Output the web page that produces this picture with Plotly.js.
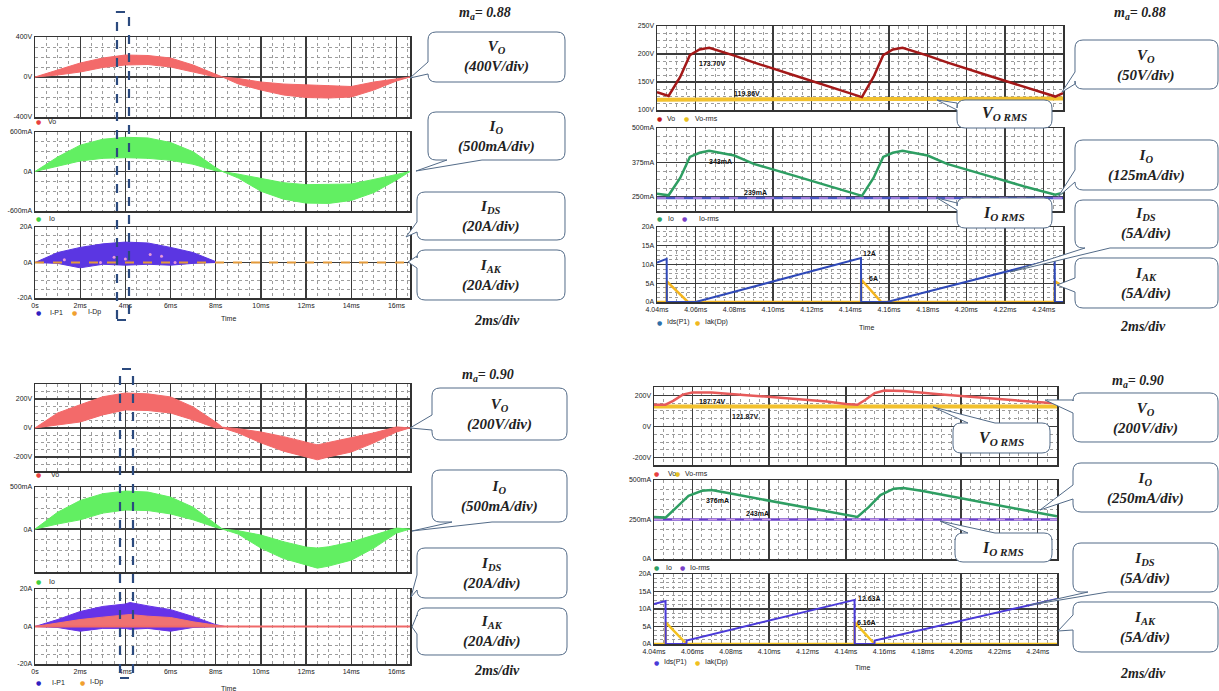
<!DOCTYPE html>
<html><head><meta charset="utf-8">
<script src="https://cdn.plot.ly/plotly-3.0.1.min.js"></script>
<style>html,body{margin:0;padding:0;background:#fff}#chart{width:1219px;height:691px}</style>
</head><body><div id="chart"></div>
<script>
// ================= DATA =================
// Panel A: m_a = 0.88, 0 - 16.6 ms
const tA = [0,1,2,3,4,5,6,7,8,8.3,9,10,11,12,13,14,15,16,16.6];
const voA_hi = [0,70,140,190,220,215,190,120,25,0,-15,-50,-70,-80,-85,-95,-50,-15,0];
const voA_lo = [0,20,50,95,120,125,100,50,0,0,-70,-130,-180,-205,-210,-200,-130,-40,0];
const ioA_hi = [0,220,400,490,520,510,440,300,60,0,-40,-110,-170,-200,-200,-190,-120,-40,0];
const ioA_lo = [0,80,160,200,210,200,170,110,10,0,-100,-300,-420,-480,-485,-440,-320,-130,0];
const tA_sw = [0,1,2,3,4,5,6,7,8];
const idsA_hi = [0,5.6,8.5,10.5,11.5,11,8.5,5.6,0.5];
const idsA_lo = [0,-0.5,-3,-1,-1.5,-1,-1.5,-0.5,0];
const idpA_t = [0,16.6];
const idpA_v = [0,0];
const idpA_dot_t = [1.3,2.9,3.5,4.0,5.1,5.6,6.2];
const idpA_dot_v = [1.5,0,3,2,4.5,3.5,0];

// Panel B: m_a = 0.90, 0 - 16.6 ms
const tB = [0,1,2,3,4,5,6,7,8,8.3,9,10,11,12,12.5,13,14,15,16,16.6];
const voB_hi = [0,103,160,215,241,235,214,145,41,5,-5,-28,-60,-97,-117,-100,-69,-34,7,0];
const voB_lo = [0,21,41,90,124,120,103,55,0,0,-35,-103,-160,-200,-220,-200,-166,-103,-28,0];
const ioB_hi = [0,200,340,420,452,440,380,260,60,0,-20,-71,-150,-214,-226,-210,-155,-71,12,0];
const ioB_lo = [0,60,110,190,226,220,180,110,20,0,-60,-226,-350,-429,-464,-440,-369,-226,-48,0];
const tB_sw = [0,1,2,3,4,4.2,5,6,7,8,8.4];
const idsB_hi = [0,3.7,8,10.7,12,12.8,11,9,5.3,1,0];
const idsB_lo = [0,-0.5,-2.5,-1,-1,-1.5,-1,-2.5,-0.5,0,0];
const iakB_hi = [0,1.8,3.7,5,6.4,6.4,5.5,4.8,2.5,0.5,0];
const idpB_t = [0,16.6];
const idpB_v = [0,0];

// Panel C: m_a = 0.88 zoom, 4.04 - 4.25 ms
const tC = [4.04,4.046,4.052,4.057,4.062,4.067,4.08,4.09,4.11,4.13,4.146,4.152,4.157,4.162,4.167,4.18,4.19,4.21,4.23,4.246,4.25];
const voC = [132,125,159,198,208,211,197,185,163,141,123,159,198,208,211,197,185,163,141,124,130];
const ioC = [262,256,319,395,410,417,400,370,329,288,254,319,395,410,417,400,370,329,288,258,265];
const rmsC_t = [4.04,4.25];
const vormsC = [118.5,120.5];
const iormsC = [246,246];
const idsC_t = [4.04,4.045,4.0451,4.06,4.1455,4.1456,4.159,4.2457,4.2458,4.25];
const idsC = [10.5,11.5,0,0,11.7,0,0,11.4,0,0];
const iakC_t = [4.04,4.045,4.0451,4.056,4.1455,4.1456,4.156,4.2457,4.2458,4.25];
const iakC = [0,0,5.5,0,0,6,0,0,5.5,4.2];

// Panel D: m_a = 0.90 zoom, 4.04 - 4.25 ms
const tD_vo = [4.04,4.046,4.05,4.055,4.06,4.07,4.09,4.11,4.13,4.14,4.146,4.15,4.155,4.16,4.17,4.19,4.21,4.23,4.245,4.25];
const voD = [140,140,165,205,219,218,200,180,160,145,140,170,215,231,228,205,185,165,152,150];
const tD_io = [4.04,4.046,4.052,4.058,4.065,4.07,4.08,4.10,4.12,4.14,4.146,4.152,4.158,4.165,4.17,4.18,4.20,4.22,4.24,4.25];
const ioD = [266,262,330,400,432,437,414,370,325,280,266,330,405,445,449,430,385,340,292,270];
const rmsD_t = [4.04,4.25];
const vormsD = [128,128];
const iormsD = [250,250];
const idsD_t = [4.04,4.046,4.0461,4.0569,4.057,4.1445,4.1446,4.1549,4.155,4.25];
const idsD = [11.4,12.3,0,0,1,12.6,0,0,1,12.9];
const iakD_t = [4.04,4.046,4.0461,4.057,4.1445,4.1446,4.155,4.25];
const iakD = [0,0,6.2,0,0,6.16,0,0];

// Tick labels
const xTickA = [0,2,4,6,8,10,12,14,16];
const xTickA_txt = ["0s","2ms","4ms","6ms","8ms","10ms","12ms","14ms","16ms"];
const xTickC = [4.04,4.06,4.08,4.10,4.12,4.14,4.16,4.18,4.20,4.22,4.24];
const xTickC_txt = ["4.04ms","4.06ms","4.08ms","4.10ms","4.12ms","4.14ms","4.16ms","4.18ms","4.20ms","4.22ms","4.24ms"];
const yVoA = [-400,0,400], yVoA_txt = ["-400V","0V","400V"];
const yIoA = [-600,0,600], yIoA_txt = ["-600mA","0A","600mA"];
const yIsw = [-20,0,20], yIsw_txt = ["-20A","0A","20A"];
const yVoB = [-200,0,200], yVoB_txt = ["-200V","0V","200V"];
const yIoB = [0,500], yIoB_txt = ["0A","500mA"];
const yVoC = [100,150,200,250], yVoC_txt = ["100V","150V","200V","250V"];
const yIoC = [250,375,500], yIoC_txt = ["250mA","375mA","500mA"];
const yIswR = [0,5,10,15,20], yIswR_txt = ["0A","5A","10A","15A","20A"];
const yVoD = [-200,0,200], yVoD_txt = ["-200V","0V","200V"];
const yIoD = [0,250,500], yIoD_txt = ["0A","250mA","500mA"];

// ================= LAYOUT HELPERS =================
const W = 1219, H = 691;
const px = x => x / W;
const py = y => 1 - y / H;
const tickFont = {family:'Liberation Sans Narrow, Liberation Sans, Arial', size:7, color:'#222'};

function xax(n, l, r, range, vals, txt, show, mdt, m0){
  return {domain:[px(l),px(r)], range, anchor:'y'+(n===1?'':n), tickmode:'array', tickvals:vals, ticktext:txt,
    showticklabels:show, showgrid:true, gridcolor:'#3c3c3c', gridwidth:1.3, zeroline:false,
    showline:true, mirror:true, linecolor:'#333', linewidth:1.5, ticks:'', tickfont:tickFont, fixedrange:true,
    minor:{tickmode:'linear', dtick:mdt, tick0:m0, showgrid:true, gridcolor:'#9c9c9c', griddash:'dot', gridwidth:1, ticks:''}};
}
function yax(n, t, b, range, vals, txt, mdt, m0){
  return {domain:[py(b),py(t)], range, anchor:'x'+(n===1?'':n), tickmode:'array', tickvals:vals, ticktext:txt,
    showticklabels:true, showgrid:true, gridcolor:'#3c3c3c', gridwidth:1.3, zeroline:false,
    showline:true, mirror:true, linecolor:'#333', linewidth:1.5, ticks:'', tickfont:tickFont, fixedrange:true,
    minor:{tickmode:'linear', dtick:mdt, tick0:m0, showgrid:true, gridcolor:'#9c9c9c', griddash:'dot', gridwidth:1, ticks:''}};
}
const layout = {width:W, height:H, margin:{l:0,r:0,t:0,b:0}, autosize:false, showlegend:false,
  paper_bgcolor:'#fff', plot_bgcolor:'#fff', shapes:[], annotations:[]};

// subplot geometry (pixels)
const SP = [
  [1, 35,410, 37,117, [0,16.6], xTickA,xTickA_txt,false,0.5,0, [-400,400], yVoA,yVoA_txt,100,0],
  [2, 35,410,132,211, [0,16.6], xTickA,xTickA_txt,false,0.5,0, [-600,600], yIoA,yIoA_txt,150,0],
  [3, 35,410,227,298, [0,16.6], xTickA,xTickA_txt,true, 0.5,0, [-20,20], yIsw,yIsw_txt,5,0],
  [4, 657,1063, 26,110, [4.04,4.25], xTickC,xTickC_txt,false,0.005,4.04, [100,250], yVoC,yVoC_txt,12.5,100],
  [5, 657,1063,128,211, [4.04,4.25], xTickC,xTickC_txt,false,0.005,4.04, [199,500], yIoC,yIoC_txt,31.25,250],
  [6, 657,1063,227,302, [4.04,4.25], xTickC,xTickC_txt,true, 0.005,4.04, [0,20], yIswR,yIswR_txt,1.25,0],
  [7, 35,410,384,471, [0,16.6], xTickA,xTickA_txt,false,0.5,0, [-297,303], yVoB,yVoB_txt,50,0],
  [8, 35,410,487,572, [0,16.6], xTickA,xTickA_txt,false,0.5,0, [-510,500], yIoB,yIoB_txt,125,0],
  [9, 35,410,589,664, [0,16.6], xTickA,xTickA_txt,true, 0.5,0, [-20,20], yIsw,yIsw_txt,5,0],
  [10, 654,1057,387,465, [4.04,4.25], xTickC,xTickC_txt,false,0.005,4.04, [-248,254], yVoD,yVoD_txt,50,0],
  [11, 654,1057,480,559, [4.04,4.25], xTickC,xTickC_txt,false,0.005,4.04, [0,500], yIoD,yIoD_txt,62.5,0],
  [12, 654,1057,574,644, [4.04,4.25], xTickC,xTickC_txt,true, 0.005,4.04, [0,20], yIswR,yIswR_txt,1.25,0]
];
SP.forEach(s => {
  const [n,l,r,t,b,xr,xv,xt,sx,xm,x0,yr,yv,yt,ym,y0] = s;
  const k = n===1 ? '' : n;
  layout['xaxis'+k] = xax(n,l,r,xr,xv,xt,sx,xm,x0);
  layout['yaxis'+k] = yax(n,t,b,yr,yv,yt,ym,y0);
});

// ================= TRACES =================
const traces = [];
function ax(n){ return {xaxis:'x'+(n===1?'':n), yaxis:'y'+(n===1?'':n)}; }
function band(n, x, lo, hi, col){
  traces.push(Object.assign({x, y:lo, mode:'lines', line:{color:col, width:1}, hoverinfo:'skip'}, ax(n)));
  traces.push(Object.assign({x, y:hi, mode:'lines', line:{color:col, width:1}, fill:'tonexty', fillcolor:col, hoverinfo:'skip'}, ax(n)));
}
function line(n, x, y, col, w, dash){
  traces.push(Object.assign({x, y, mode:'lines', line:{color:col, width:w, dash:dash||'solid'}, hoverinfo:'skip'}, ax(n)));
}
// Panel A
band(1, tA, voA_lo, voA_hi, '#f36a6a');
band(2, tA, ioA_lo, ioA_hi, '#62ef62');
band(3, tA_sw, idsA_lo, idsA_hi, '#5b36e2');
line(3, idpA_t, idpA_v, '#e39a3a', 2, 'dash');
traces.push(Object.assign({x:idpA_dot_t, y:idpA_dot_v, mode:'markers', marker:{color:'#e79ad8', size:3}, hoverinfo:'skip'}, ax(3)));
// Panel C
line(4, rmsC_t, vormsC, '#f2c12e', 4);
line(4, tC, voC, '#a31818', 2.5);
line(5, rmsC_t, iormsC, '#4b55c4', 2.5);
line(5, rmsC_t, iormsC, '#b98ae6', 1.5, 'dash');
line(5, tC, ioC, '#2e9e62', 2.5);
line(6, iakC_t, iakC, '#f4b51f', 2.5);
line(6, idsC_t, idsC, '#2f49b8', 2);
// Panel B
band(7, tB, voB_lo, voB_hi, '#f36a6a');
band(8, tB, ioB_lo, ioB_hi, '#62ef62');
band(9, tB_sw, idsB_lo, idsB_hi, '#6633e8');
traces.push(Object.assign({x:tB_sw, y:iakB_hi, mode:'lines', line:{color:'#f07272', width:1}, fill:'tozeroy', fillcolor:'#f07272', hoverinfo:'skip'}, ax(9)));
line(9, idpB_t, idpB_v, '#ef6868', 2);
// Panel D
line(10, rmsD_t, vormsD, '#f2c12e', 4);
line(10, tD_vo, voD, '#e65a5a', 2.5);
line(11, rmsD_t, iormsD, '#6a3fc8', 2.5);
line(11, rmsD_t, iormsD, '#c79be8', 1.5, 'dash');
line(11, tD_io, ioD, '#2e9e62', 2.5);
line(12, iakD_t, iakD, '#f4c21f', 2.5);
line(12, idsD_t, idsD, '#4a3ad8', 2);

// ================= ANNOTATIONS & SHAPES =================
function ann(text, x, y, o){
  layout.annotations.push(Object.assign({text, x:px(x), y:py(y), xref:'paper', yref:'paper', showarrow:false,
    xanchor:'center', yanchor:'middle', font:{family:'Liberation Sans, Arial', size:7, color:'#222'}}, o||{}));
}
const serif = {family:'Liberation Serif, Times New Roman, serif', size:15, color:'#222'};
function boxText(text, x, y, size){ ann(text, x, y, {font:Object.assign({}, serif, {size:size||15})}); }

function callout(x0,y0,x1,y1,w){
  const r = 8, P = [];
  P.push(['M',x0+r,y0]);
  if (w.side==='top'){ P.push(['L',w.a,y0]); P.push(['L',w.tx,w.ty]); P.push(['L',w.b,y0]); }
  P.push(['L',x1-r,y0]); P.push(['Q',x1,y0,x1,y0+r]);
  P.push(['L',x1,y1-r]); P.push(['Q',x1,y1,x1-r,y1]);
  if (w.side==='bottom'){ P.push(['L',w.b,y1]); P.push(['L',w.tx,w.ty]); P.push(['L',w.a,y1]); }
  P.push(['L',x0+r,y1]); P.push(['Q',x0,y1,x0,y1-r]);
  if (w.side==='left'){ P.push(['L',x0,w.b]); P.push(['L',w.tx,w.ty]); P.push(['L',x0,w.a]); }
  P.push(['L',x0,y0+r]); P.push(['Q',x0,y0,x0+r,y0]);
  let s = '';
  P.forEach(c => {
    s += c[0] + ' ';
    for (let i=1;i<c.length;i+=2) s += px(c[i]).toFixed(5) + ',' + py(c[i+1]).toFixed(5) + ' ';
  });
  s += 'Z';
  layout.shapes.push({type:'path', xref:'paper', yref:'paper', path:s, fillcolor:'#ffffff',
    line:{color:'#536b88', width:1}, layer:'above'});
}
function dashBox(x0,y0,x1,y1){
  layout.shapes.push({type:'rect', xref:'paper', yref:'paper', x0:px(x0), x1:px(x1), y0:py(y1), y1:py(y0),
    line:{color:'#2b4a7e', width:2.2, dash:'dash'}, fillcolor:'rgba(0,0,0,0)', layer:'above'});
}
dashBox(117,12,129,320);
dashBox(120,369,133,678);

// ---- callouts, Panel A
callout(428,32,565,82,{side:'left',a:62,b:74,tx:410,ty:78});
callout(428,112,565,160,{side:'bottom',a:447,b:482,tx:416,ty:171});
callout(417,192,565,240,{side:'left',a:222,b:232,tx:406,ty:237});
callout(417,250,565,300,{side:'left',a:256,b:268,tx:408,ty:262});
// Panel C
callout(1075,40,1218,89,{side:'left',a:72,b:84,tx:1062,ty:92});
callout(1075,140,1218,190,{side:'left',a:170,b:182,tx:1058,ty:197});
callout(1075,200,1218,248,{side:'bottom',a:1085,b:1110,tx:1010,ty:272});
callout(1075,258,1218,308,{side:'left',a:278,b:292,tx:1057,ty:285});
callout(957,100,1052,128,{side:'left',a:103,b:110,tx:937,ty:100});
callout(957,198,1052,228,{side:'left',a:203,b:210,tx:937,ty:198});
// Panel B
callout(432,388,567,440,{side:'left',a:415,b:430,tx:410,ty:428});
callout(432,470,567,522,{side:'bottom',a:452,b:492,tx:412,ty:531});
callout(417,548,567,598,{side:'left',a:575,b:590,tx:411,ty:597});
callout(417,608,567,655,{side:'left',a:615,b:634,tx:412,ty:627});
// Panel D
callout(1073,393,1218,442,{side:'left',a:400,b:413,tx:1045,ty:400});
callout(1073,463,1218,512,{side:'left',a:485,b:499,tx:1040,ty:510});
callout(1073,543,1218,592,{side:'bottom',a:1088,b:1108,tx:1030,ty:605});
callout(1073,602,1218,652,{side:'left',a:615,b:630,tx:1058,ty:631});
callout(953,423,1050,453,{side:'top',a:968,b:995,tx:933,ty:407});
callout(955,533,1052,562,{side:'top',a:968,b:995,tx:940,ty:521});

// box texts
const VO = '<b><i>V<sub>O</sub></i></b>', IO = '<b><i>I<sub>O</sub></i></b>';
const IDS = '<b><i>I<sub>DS</sub></i></b>', IAK = '<b><i>I<sub>AK</sub></i></b>';
const d = s => '<b><i>(' + s + ')</i></b>';
boxText(VO+'<br>'+d('400V/div'), 496, 57);
boxText(IO+'<br>'+d('500mA/div'), 496, 136);
boxText(IDS+'<br>'+d('20A/div'), 491, 216);
boxText(IAK+'<br>'+d('20A/div'), 491, 275);
boxText(VO+'<br>'+d('50V/div'), 1146, 65);
boxText(IO+'<br>'+d('125mA/div'), 1146, 165);
boxText(IDS+'<br>'+d('5A/div'), 1146, 224);
boxText(IAK+'<br>'+d('5A/div'), 1146, 283);
boxText('<b><i>V<sub>O RMS</sub></i></b>', 1004, 114, 16);
boxText('<b><i>I<sub>O RMS</sub></i></b>', 1004, 213, 16);
boxText(VO+'<br>'+d('200V/div'), 499, 414);
boxText(IO+'<br>'+d('500mA/div'), 499, 496);
boxText(IDS+'<br>'+d('20A/div'), 492, 573);
boxText(IAK+'<br>'+d('20A/div'), 492, 631);
boxText(VO+'<br>'+d('200V/div'), 1145, 418);
boxText(IO+'<br>'+d('250mA/div'), 1145, 488);
boxText(IDS+'<br>'+d('5A/div'), 1145, 568);
boxText(IAK+'<br>'+d('5A/div'), 1145, 627);
boxText('<b><i>V<sub>O RMS</sub></i></b>', 1001, 438, 16);
boxText('<b><i>I<sub>O RMS</sub></i></b>', 1003, 548, 16);
// headers and time-base
boxText('<b><i>m<sub>a</sub>= 0.88</i></b>', 485, 14, 14);
boxText('<b><i>m<sub>a</sub>= 0.88</i></b>', 1140, 14, 14);
boxText('<b><i>m<sub>a</sub>= 0.90</i></b>', 488, 375, 14);
boxText('<b><i>m<sub>a</sub>= 0.90</i></b>', 1138, 382, 14);
boxText('<b><i>2ms/div</i></b>', 497, 320, 14);
boxText('<b><i>2ms/div</i></b>', 1143, 326, 14);
boxText('<b><i>2ms/div</i></b>', 497, 670, 14);
boxText('<b><i>2ms/div</i></b>', 1143, 673, 14);

// legends
function leg(col, mx, txt, tx, y){
  ann('●', mx, y, {font:{family:'DejaVu Sans', size:6, color:col}});
  ann(txt, tx, y, {xanchor:'left'});
}
leg('#e84040',38,'Vo',46,122);
leg('#40d040',38,'Io',47,218);
leg('#3020c0',38,'I-P1',48,312); leg('#f0a030',74,'I-Dp',86,312);
ann('Time', 228, 319);
leg('#c01818',659,'Vo',665,118); leg('#e8c020',686,'Vo-rms',693,118);
leg('#2e9e62',659,'Io',666,218); leg('#7a3fc8',684,'Io-rms',697,218);
leg('#2f6fa8',659,'Ids(P1)',665,322); leg('#f0b820',697,'Iak(Dp)',703,322);
ann('Time', 866, 327);
leg('#e84040',38,'Vo',49,474);
leg('#40d040',38,'Io',47,581);
leg('#3020c0',38,'I-P1',50,682); leg('#f0a030',82,'I-Dp',88,682);
ann('Time', 228, 688);
leg('#e84040',656,'Vo',666,473); leg('#e8c020',677,'Vo-rms',683,473);
leg('#2e9e62',656,'Io',664,567); leg('#7a3fc8',682,'Io-rms',688,567);
leg('#4a3ad8',656,'Ids(P1)',662,662); leg('#f0c020',697,'Iak(Dp)',703,662);
ann('Time', 862, 667);

// value labels
const bl = {font:{family:'Liberation Sans, Arial', size:7, color:'#111'}};
ann('<b>173.70V</b>', 712, 63, bl);
ann('<b>119.86V</b>', 747, 93, bl);
ann('<b>343mA</b>', 720, 162, bl);
ann('<b>239mA</b>', 755, 192, bl);
ann('<b>12A</b>', 870, 253, bl);
ann('<b>6A</b>', 873, 279, bl);
ann('<b>187.74V</b>', 712, 402, bl);
ann('<b>121.87V</b>', 745, 417, bl);
ann('<b>376mA</b>', 717, 500, bl);
ann('<b>243mA</b>', 757, 513, bl);
ann('<b>12.63A</b>', 870, 598, bl);
ann('<b>6.16A</b>', 866, 622, bl);

Plotly.newPlot('chart', traces, layout, {staticPlot:true, displayModeBar:false});
</script>
</body></html>
